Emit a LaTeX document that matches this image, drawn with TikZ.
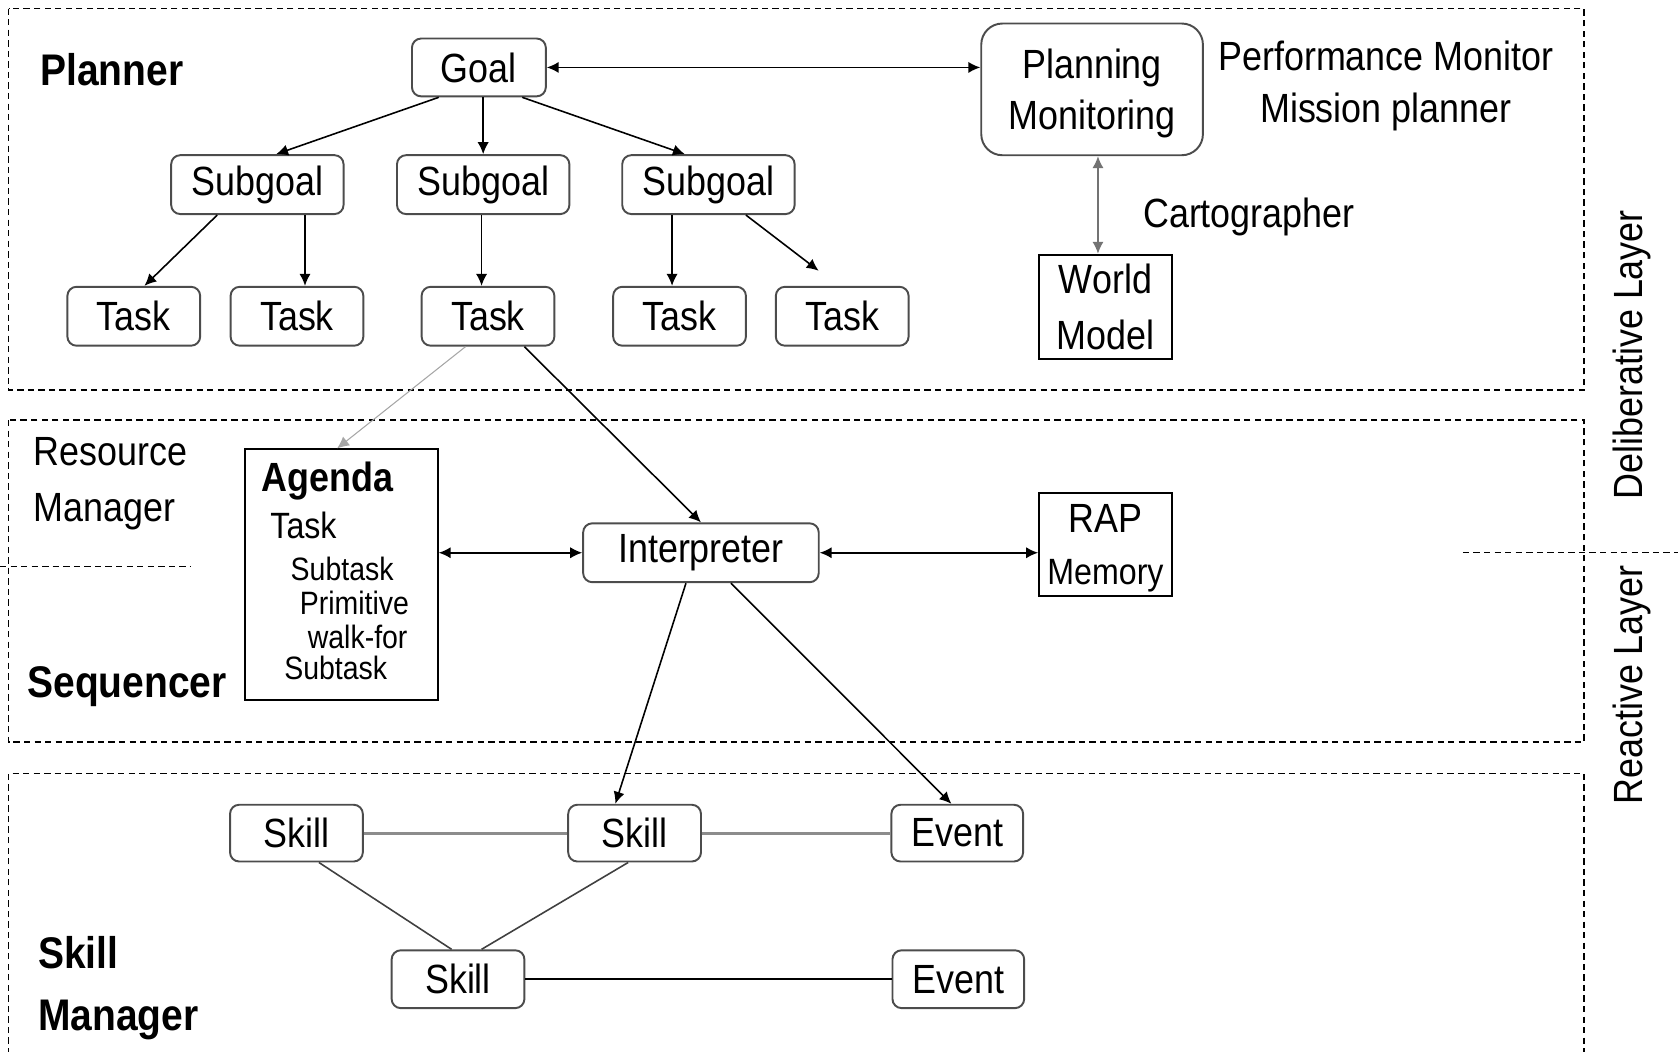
\documentclass[tikz,border=0pt]{standalone}
\usepackage{fontspec}
\setmainfont{Liberation Sans}[FakeStretch=0.88]
\usetikzlibrary{arrows.meta,calc}
\def\px{0.30454pt}
\begin{document}
\begin{tikzpicture}[x=0.010702cm,y=-0.010702cm,
  rbox/.style={draw=black!70, line width=0.55pt, rounded corners=2.6pt, inner sep=0, font=\fontsize{11.6}{14.5}\selectfont, align=center},
  sbox/.style={draw=black, line width=0.55pt, inner sep=0, align=center},
  lbl/.style={inner sep=0, text height=8.3pt, text depth=0pt, font=\fontsize{11.6}{14.5}\selectfont},
  blbl/.style={inner sep=0, text height=9pt, text depth=0pt, font=\bfseries\fontsize{12.6}{17.5}\selectfont},
  agb/.style={inner sep=0, anchor=west, text height=8.3pt, text depth=0pt, font=\bfseries\fontsize{11.6}{13}\selectfont},
  agt/.style={inner sep=0, anchor=west, text height=7.45pt, text depth=0pt, font=\fontsize{10.4}{12}\selectfont},
  ags/.style={inner sep=0, anchor=west, text height=6.6pt, text depth=0pt, font=\fontsize{9.2}{10}\selectfont},
  zone/.style={draw=black, line width=0.4pt, dash pattern=on 1.8pt off 1.2pt},
  arr/.style={-{Latex[length=3.4pt,width=3.2pt]}, line width=0.45pt},
  darr/.style={{Latex[length=3.4pt,width=3.2pt]}-{Latex[length=3.4pt,width=3.2pt]}, line width=0.45pt},
]
\useasboundingbox (0,0) rectangle (1568,983);

% zones
\draw[zone] (8,8) rectangle (1480,364.6);
\draw[zone] (8,392.5) rectangle (1480,693.5);
\draw[zone] (8,995) -- (8,722.7) -- (1480,722.7) -- (1480,995);
\draw[zone] (0,529.5) -- (178.5,529.5);
\draw[zone] (1367,516) -- (1568,516);

% planner
\node[rbox, minimum width=125*\px, minimum height=54*\px] (goal) at (447.5,63) {Goal};
\node[rbox, rounded corners=6pt, text depth=0pt, minimum width=207*\px, minimum height=123*\px] (pm) at (1020.5,83.5) {Planning\\Monitoring};
\node[rbox, minimum width=161*\px, minimum height=55*\px] (sub1) at (240.5,172.5) {Subgoal};
\node[rbox, minimum width=161*\px, minimum height=55*\px] (sub2) at (451.5,172.5) {Subgoal};
\node[rbox, minimum width=161*\px, minimum height=55*\px] (sub3) at (662,172.5) {Subgoal};
\node[rbox, minimum width=124*\px, minimum height=55*\px] (task1) at (125,295.5) {Task};
\node[rbox, minimum width=124*\px, minimum height=55*\px] (task2) at (277.5,295.5) {Task};
\node[rbox, minimum width=124*\px, minimum height=55*\px] (task3) at (456,295.5) {Task};
\node[rbox, minimum width=124*\px, minimum height=55*\px] (task4) at (635,295.5) {Task};
\node[rbox, minimum width=124*\px, minimum height=55*\px] (task5) at (787,295.5) {Task};
\node[sbox, text depth=0pt, minimum width=124*\px, minimum height=97*\px, font=\fontsize{11.6}{16}\selectfont] (wm) at (1033,286.5) {World\\Model};

\node[blbl, anchor=west] (planner) at (37,65.4) {Planner};
\node[inner sep=0, align=center, text depth=0pt, font=\fontsize{11.6}{14.8}\selectfont] (perf) at (1295,76) {Performance Monitor\\Mission planner};
\node[lbl] (carto) at (1167,198.5) {Cartographer};

% sequencer
\node[sbox, minimum width=180*\px, minimum height=234*\px] (agenda) at (319,537) {};
\node[agb] (agl) at (244,446) {Agenda};
\node[agt] (agtask) at (252,490.5) {Task};
\node[ags] (ags1) at (271,532) {Subtask};
\node[ags] (agp) at (279.5,563) {Primitive};
\node[ags] (agw) at (287,595) {walk-for};
\node[ags] (ags2) at (265,623.7) {Subtask};
\node[rbox, minimum width=220*\px, minimum height=55*\px] (interp) at (655,516.5) {Interpreter};
\node[sbox, text depth=0pt, minimum width=124*\px, minimum height=96*\px, font=\fontsize{11.6}{14.8}\selectfont] (rap) at (1033,509) {RAP\\{\fontsize{10.4}{14.8}\selectfont Memory}};
\node[inner sep=0, anchor=west, align=left, text depth=0pt, font=\fontsize{11.6}{15.7}\selectfont] (resm) at (31,448) {Resource\\Manager};
\node[blbl, anchor=west] (seq) at (25,637) {Sequencer};

% skill manager
\node[rbox, minimum width=124*\px, minimum height=53*\px] (skill1) at (277,778.5) {Skill};
\node[rbox, minimum width=124*\px, minimum height=53*\px] (skill2) at (593,778.5) {Skill};
\node[rbox, minimum width=123*\px, minimum height=53*\px] (event1) at (894.5,778.5) {Event};
\node[rbox, minimum width=124*\px, minimum height=54*\px] (skill3) at (428,915) {Skill};
\node[rbox, minimum width=123*\px, minimum height=54*\px] (event2) at (895.5,915) {Event};
\node[inner sep=0, anchor=west, align=left, text depth=0pt, font=\bfseries\fontsize{12.6}{17.5}\selectfont] (skm) at (35,919) {Skill\\Manager};

% layers
\node[lbl, rotate=90] (delib) at (1521,331.5) {Deliberative Layer};
\node[lbl, rotate=90] (react) at (1521,640) {Reactive Layer};

% connectors
\draw[darr] (goal.east) -- (goal.east -| pm.west);
\draw[arr] ($(goal.south)+(-37.5,0)$) -- ($(sub1.north)+(17.5,0)$);
\draw[arr] (goal.south -| sub2.north) -- (sub2.north);
\draw[arr] ($(goal.south)+(40.5,0)$) -- ($(sub3.north)+(-22,0)$);
\draw[arr] ($(sub1.south)+(-37.5,0)$) -- ($(task1.north)+(10,0)$);
\draw[arr] ($(sub1.south)+(44.5,0)$) -- ($(task2.north)+(7.5,0)$);
\draw[arr] ($(sub2.south)+(-1.5,0)$) -- ($(task3.north)+(-6,0)$);
\draw[arr] ($(sub3.south)+(-34,0)$) -- ($(task4.north)+(-7,0)$);
\coordinate (free) at (765,253);
\draw[arr] ($(sub3.south)+(35,0)$) -- (free);
\draw[darr, draw=black!55] ($(pm.south)+(5.5,0)$) -- ($(wm.north)+(-7,0)$);
\draw[arr, draw=black!35, line width=0.3pt] ($(task3.south)+(-21,0)$) -- ($(agenda.north)+(-4,0)$);
\draw[arr] ($(task3.south)+(34,0)$) -- (interp.north);
\draw[darr] (interp.west -| agenda.east) -- (interp.west);
\draw[darr] (interp.east) -- (interp.east -| rap.west);
\draw[arr] ($(interp.south)+(-14,0)$) -- ($(skill2.north)+(-18,0)$);
\draw[arr] ($(interp.south)+(28,0)$) -- ($(event1.north)+(-5.5,0)$);
\draw[black!45, line width=0.9pt] (skill1) -- (skill2);
\draw[black!45, line width=0.9pt] (skill2) -- (event1);
\draw[black!75, line width=0.45pt] ($(skill1.south)+(21,0)$) -- ($(skill3.north)+(-6,0)$);
\draw[black!75, line width=0.45pt] ($(skill2.south)+(-6,0)$) -- ($(skill3.north)+(22,0)$);
\draw[line width=0.55pt] (skill3) -- (event2);
\end{tikzpicture}
\end{document}
